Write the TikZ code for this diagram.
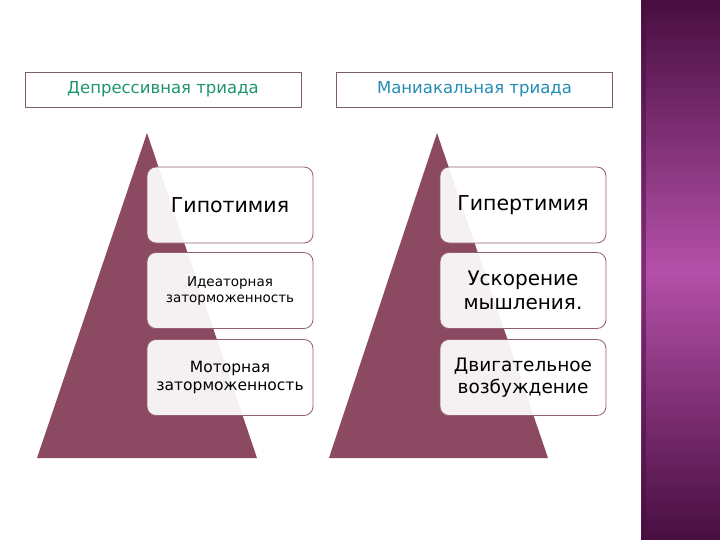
\documentclass[tikz,border=0pt]{standalone}
\usepackage{fontspec}
\setmainfont{DejaVu Sans}
\definecolor{pyramid}{RGB}{139,74,98}
\definecolor{boxline}{RGB}{150,95,115}
\definecolor{headline}{RGB}{125,90,110}
\definecolor{depgreen}{RGB}{30,150,105}
\definecolor{manblue}{RGB}{35,140,180}
\definecolor{stripedark}{RGB}{72,14,64}
\definecolor{stripelight}{RGB}{180,80,168}
\tikzset{
  header/.style={draw=headline, line width=0.8pt, minimum width=276pt, minimum height=35pt, inner sep=0pt, font=\fontsize{16.5}{19}\selectfont},
  level/.style={draw=boxline, line width=0.8pt, rounded corners=9pt, fill=white, fill opacity=0.92, text opacity=1, minimum width=166pt, minimum height=76pt, inner sep=2pt, align=center}
}
\begin{document}
\begin{tikzpicture}[x=1pt, y=-1pt, line join=round]
    \useasboundingbox (0,0) rectangle (720,540);
    \fill[white] (0,0) rectangle (720,540);

    % side stripe
    \shade[top color=stripedark, bottom color=stripedark, middle color=stripelight] (641,0) rectangle (720,540);
    \fill[stripedark, opacity=0.5] (642,0) rectangle (646,540);

    % headers
    \node[header, text=depgreen] (dep) at (163,89.5) {Депрессивная триада};
    \node[header, text=manblue] (man) at (474.5,89.5) {Маниакальная триада};

    % pyramids
    \coordinate (LTop) at (147,133);
    \coordinate (LLeft) at (37,458);
    \coordinate (LRight) at (257,458);
    \coordinate (RTop) at (437,133);
    \coordinate (RLeft) at (329,458);
    \coordinate (RRight) at (548,458);
    \fill[pyramid] (LTop) -- (LLeft) -- (LRight) -- cycle;
    \fill[pyramid] (RTop) -- (RLeft) -- (RRight) -- cycle;

    % depressive levels
    \node[level, font=\fontsize{20.5}{24}\selectfont] (hypo) at (230,205) {Гипотимия};
    \node[level, font=\fontsize{13.5}{16}\selectfont] (ideo) at (230,290.5) {Идеаторная\\заторможенность};
    \node[level, font=\fontsize{15.5}{18}\selectfont] (motor) at (230,377.5) {Моторная\\заторможенность};

    % manic levels
    \node[level, font=\fontsize{20.5}{24}\selectfont] (hyper) at (523,205) {Гипертимия};
    \node[level, font=\fontsize{20}{24}\selectfont] (speed) at (523,290.5) {Ускорение\\мышления.};
    \node[level, font=\fontsize{18.5}{22}\selectfont] (excite) at (523,377.5) {Двигательное\\возбуждение};
\end{tikzpicture}
\end{document}
